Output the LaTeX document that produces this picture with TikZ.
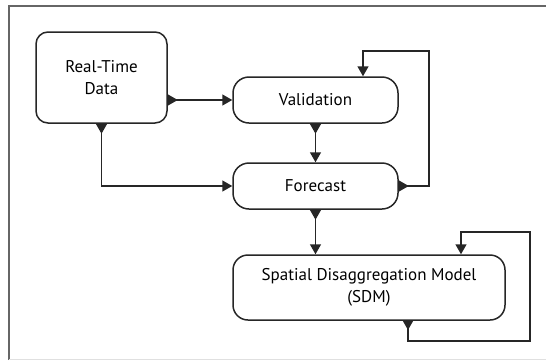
\documentclass[tikz,border=0pt]{standalone}
\usepackage{fontspec}
\setmainfont{PT Sans}
\usetikzlibrary{arrows.meta,positioning}
\tikzset{
  box/.style={draw=black!85, line width=1.5pt, fill=white, align=center, inner sep=0pt,
    font=\fontsize{17}{22}\selectfont},
  tri/.tip={Triangle[width=11pt,length=10pt]},
  flow/.style={line width=1.5pt, draw=black!85, -{tri}},
  flowb/.style={line width=1.5pt, draw=black!85, {Triangle[reversed,width=11pt,length=10pt]}-{tri}},
}
\begin{document}
\begin{tikzpicture}[x=1pt,y=-1pt]
\useasboundingbox (0,0) rectangle (546,360);
\fill[white] (0,0) rectangle (546,360);
\draw[black!60, line width=1.6pt] (9,360) -- (9,6) -- (546,6);
\draw[black!12, line width=1pt] (9,359) -- (546,359);

\node[box, rounded corners=12pt, minimum width=131pt, minimum height=91pt] (rtd) at (101.5,77.5) {Real-Time\\Data};
\node[box, rounded corners=16pt, minimum width=165pt, minimum height=46pt] (val) at (315.5,100) {Validation};
\node[box, rounded corners=16pt, minimum width=165pt, minimum height=46pt] (fc) at (315.5,186) {Forecast};
\node[box, rounded corners=15pt, minimum width=272pt, minimum height=65pt] (sdm) at (369,287.5) {Spatial Disaggregation Model\\(SDM)};

\coordinate (f1) at (429,186);
\coordinate (f2) at (429,51);
\coordinate (f3) at (363,51);
\coordinate (s0) at (408,320);
\coordinate (s1) at (408,341);
\coordinate (s2) at (530,341);
\coordinate (s3) at (530,232);
\coordinate (s4) at (461,232);

\draw[flowb] (val.west -| rtd.east) -- (val.west);
\draw[flowb] (rtd.south) |- (fc.west);
\draw[flowb] (val.south) -- (val.south |- fc.north);
\draw[flowb] (fc.east) -- (f1) -- (f2) -- (f3) -- (f3 |- val.north);
\draw[flowb] (fc.south) -- (fc.south |- sdm.north);
\draw[flowb] (s0) -- (s1) -- (s2) -- (s3) -- (s4) -- (s4 |- sdm.north);
\end{tikzpicture}
\end{document}
